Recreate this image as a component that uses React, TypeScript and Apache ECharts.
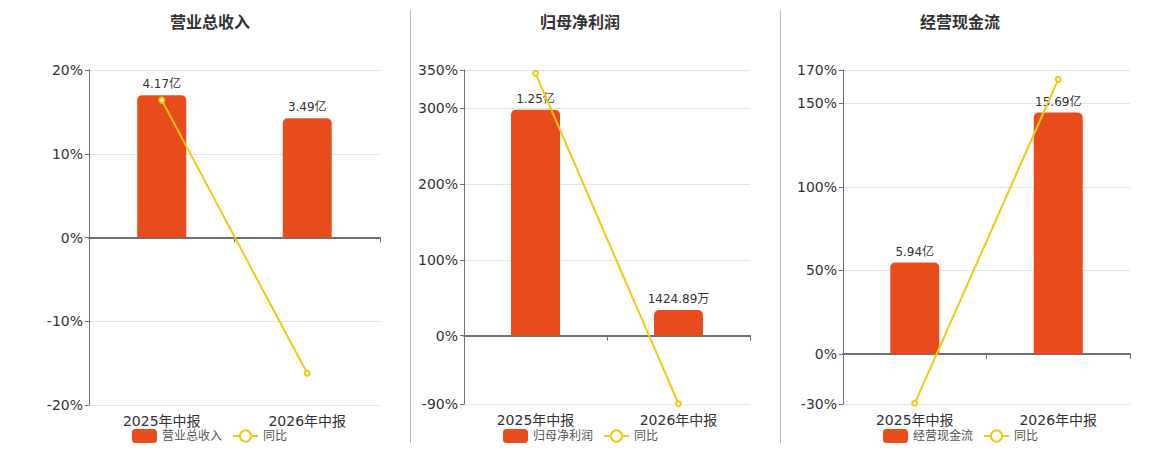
import React, { useEffect, useRef } from "react";
import * as echarts from "echarts";

const categories = ["2025年中报", "2026年中报"];
const panelTitles = ["营业总收入", "归母净利润", "经营现金流"];
const barNames = ["营业总收入", "归母净利润", "经营现金流"];
const lineName = "同比";

const barRevenue = [4.17, 3.49];
const barRevenueLabels = ["4.17亿", "3.49亿"];
const barProfit = [1.25, 0.1424889];
const barProfitLabels = ["1.25亿", "1424.89万"];
const barCash = [5.94, 15.69];
const barCashLabels = ["5.94亿", "15.69亿"];

const yoyRevenue = [16.4, -16.2];
const yoyProfit = [345.6, -89.6];
const yoyCash = [-29.6, 164.4];

const ticksRevenue = [-20, -10, 0, 10, 20];
const ticksProfit = [-90, 0, 100, 200, 300, 350];
const ticksCash = [-30, 0, 50, 100, 150, 170];

const BAR_COLOR = "#E84C1D";
const LINE_COLOR = "#F2C811";
const AXIS_COLOR = "#6E7079";
const GRID_COLOR = "#E0E6F1";
const FONT = "DejaVu Sans, 'Noto Sans CJK SC', sans-serif";

export default function App() {
  const ref = useRef<HTMLDivElement>(null);

  useEffect(() => {
    document.body.style.margin = "0";
    if (!ref.current) return;
    const chart = echarts.init(ref.current, undefined, { renderer: "svg" });

    const panels = [
      { bars: barRevenue, labels: barRevenueLabels, yoy: yoyRevenue, ticks: ticksRevenue, grid: { left: 89, top: 70, width: 291, height: 335 }, titleX: 210, legendX: 132 },
      { bars: barProfit, labels: barProfitLabels, yoy: yoyProfit, ticks: ticksProfit, grid: { left: 464, top: 70, width: 286, height: 334 }, titleX: 580, legendX: 503 },
      { bars: barCash, labels: barCashLabels, yoy: yoyCash, ticks: ticksCash, grid: { left: 843, top: 70, width: 287, height: 334 }, titleX: 960, legendX: 883 },
    ];

    const grids: any[] = [];
    const xAxes: any[] = [];
    const yAxes: any[] = [];
    const series: any[] = [];
    const titles: any[] = [];
    const legends: any[] = [];

    panels.forEach((p, i) => {
      grids.push({ ...p.grid, containLabel: false });
      const pMin = Math.min(...p.ticks);
      const pMax = Math.max(...p.ticks);
      const barMax = Math.max(...p.bars) / 0.85;
      const barMin = (barMax * pMin) / pMax;

      xAxes.push({
        type: "category",
        gridIndex: i,
        data: categories,
        axisLine: { show: true, onZero: true, onZeroAxisIndex: 2 * i, lineStyle: { color: AXIS_COLOR, width: 2 } },
        axisTick: { show: true, length: 5, lineStyle: { color: AXIS_COLOR } },
        axisLabel: { show: false },
        splitLine: { show: false },
      });
      xAxes.push({
        type: "category",
        gridIndex: i,
        position: "bottom",
        data: categories,
        axisLine: { show: false, onZero: false },
        axisTick: { show: false },
        axisLabel: { show: true, fontSize: 14, color: "#333", margin: 9, fontFamily: FONT },
        splitLine: { show: false },
      });

      yAxes.push({
        type: "value",
        gridIndex: i,
        min: pMin,
        max: pMax,
        axisLine: { show: true, lineStyle: { color: AXIS_COLOR } },
        axisTick: { show: true, length: 4, customValues: p.ticks, lineStyle: { color: AXIS_COLOR } },
        axisLabel: { fontSize: 14, color: "#333", margin: 6, formatter: "{value}%", customValues: p.ticks, fontFamily: FONT },
        splitLine: { show: true, lineStyle: { color: GRID_COLOR } },
      });
      yAxes.push({
        type: "value",
        gridIndex: i,
        show: false,
        min: barMin,
        max: barMax,
        splitLine: { show: false },
      });

      series.push({
        type: "bar",
        name: barNames[i],
        xAxisIndex: 2 * i,
        yAxisIndex: 2 * i + 1,
        data: p.bars,
        barWidth: 49,
        itemStyle: { color: BAR_COLOR, borderRadius: [5, 5, 0, 0] },
        label: {
          show: true,
          position: "top",
          distance: 5,
          fontSize: 12,
          color: "#333",
          fontFamily: FONT,
          formatter: (params: any) => p.labels[params.dataIndex],
        },
        z: 2,
      });
      series.push({
        type: "line",
        name: lineName,
        xAxisIndex: 2 * i,
        yAxisIndex: 2 * i,
        data: p.yoy,
        symbol: "emptyCircle",
        symbolSize: 5,
        lineStyle: { color: LINE_COLOR, width: 2 },
        itemStyle: { color: LINE_COLOR },
        z: 3,
      });

      titles.push({
        text: panelTitles[i],
        left: p.titleX,
        top: 14,
        padding: 0,
        textAlign: "center",
        textStyle: { fontSize: 16, fontWeight: "bold", color: "#333", fontFamily: FONT },
      });
      legends.push({
        left: p.legendX,
        top: 429,
        itemWidth: 25,
        itemHeight: 14,
        itemGap: 10,
        padding: 0,
        data: [barNames[i], lineName],
        textStyle: { fontSize: 12, color: "#555", fontFamily: FONT },
      });
    });

    chart.setOption({
      animation: false,
      backgroundColor: "#fff",
      textStyle: { fontFamily: FONT },
      title: titles,
      legend: legends,
      grid: grids,
      xAxis: xAxes,
      yAxis: yAxes,
      series,
      graphic: [
        { type: "line", shape: { x1: 410.5, y1: 10, x2: 410.5, y2: 443 }, style: { stroke: "#bbb", lineWidth: 1 } },
        { type: "line", shape: { x1: 780.5, y1: 10, x2: 780.5, y2: 443 }, style: { stroke: "#bbb", lineWidth: 1 } },
      ],
    });

    return () => chart.dispose();
  }, []);

  return <div ref={ref} style={{ width: 1160, height: 450 }} />;
}
